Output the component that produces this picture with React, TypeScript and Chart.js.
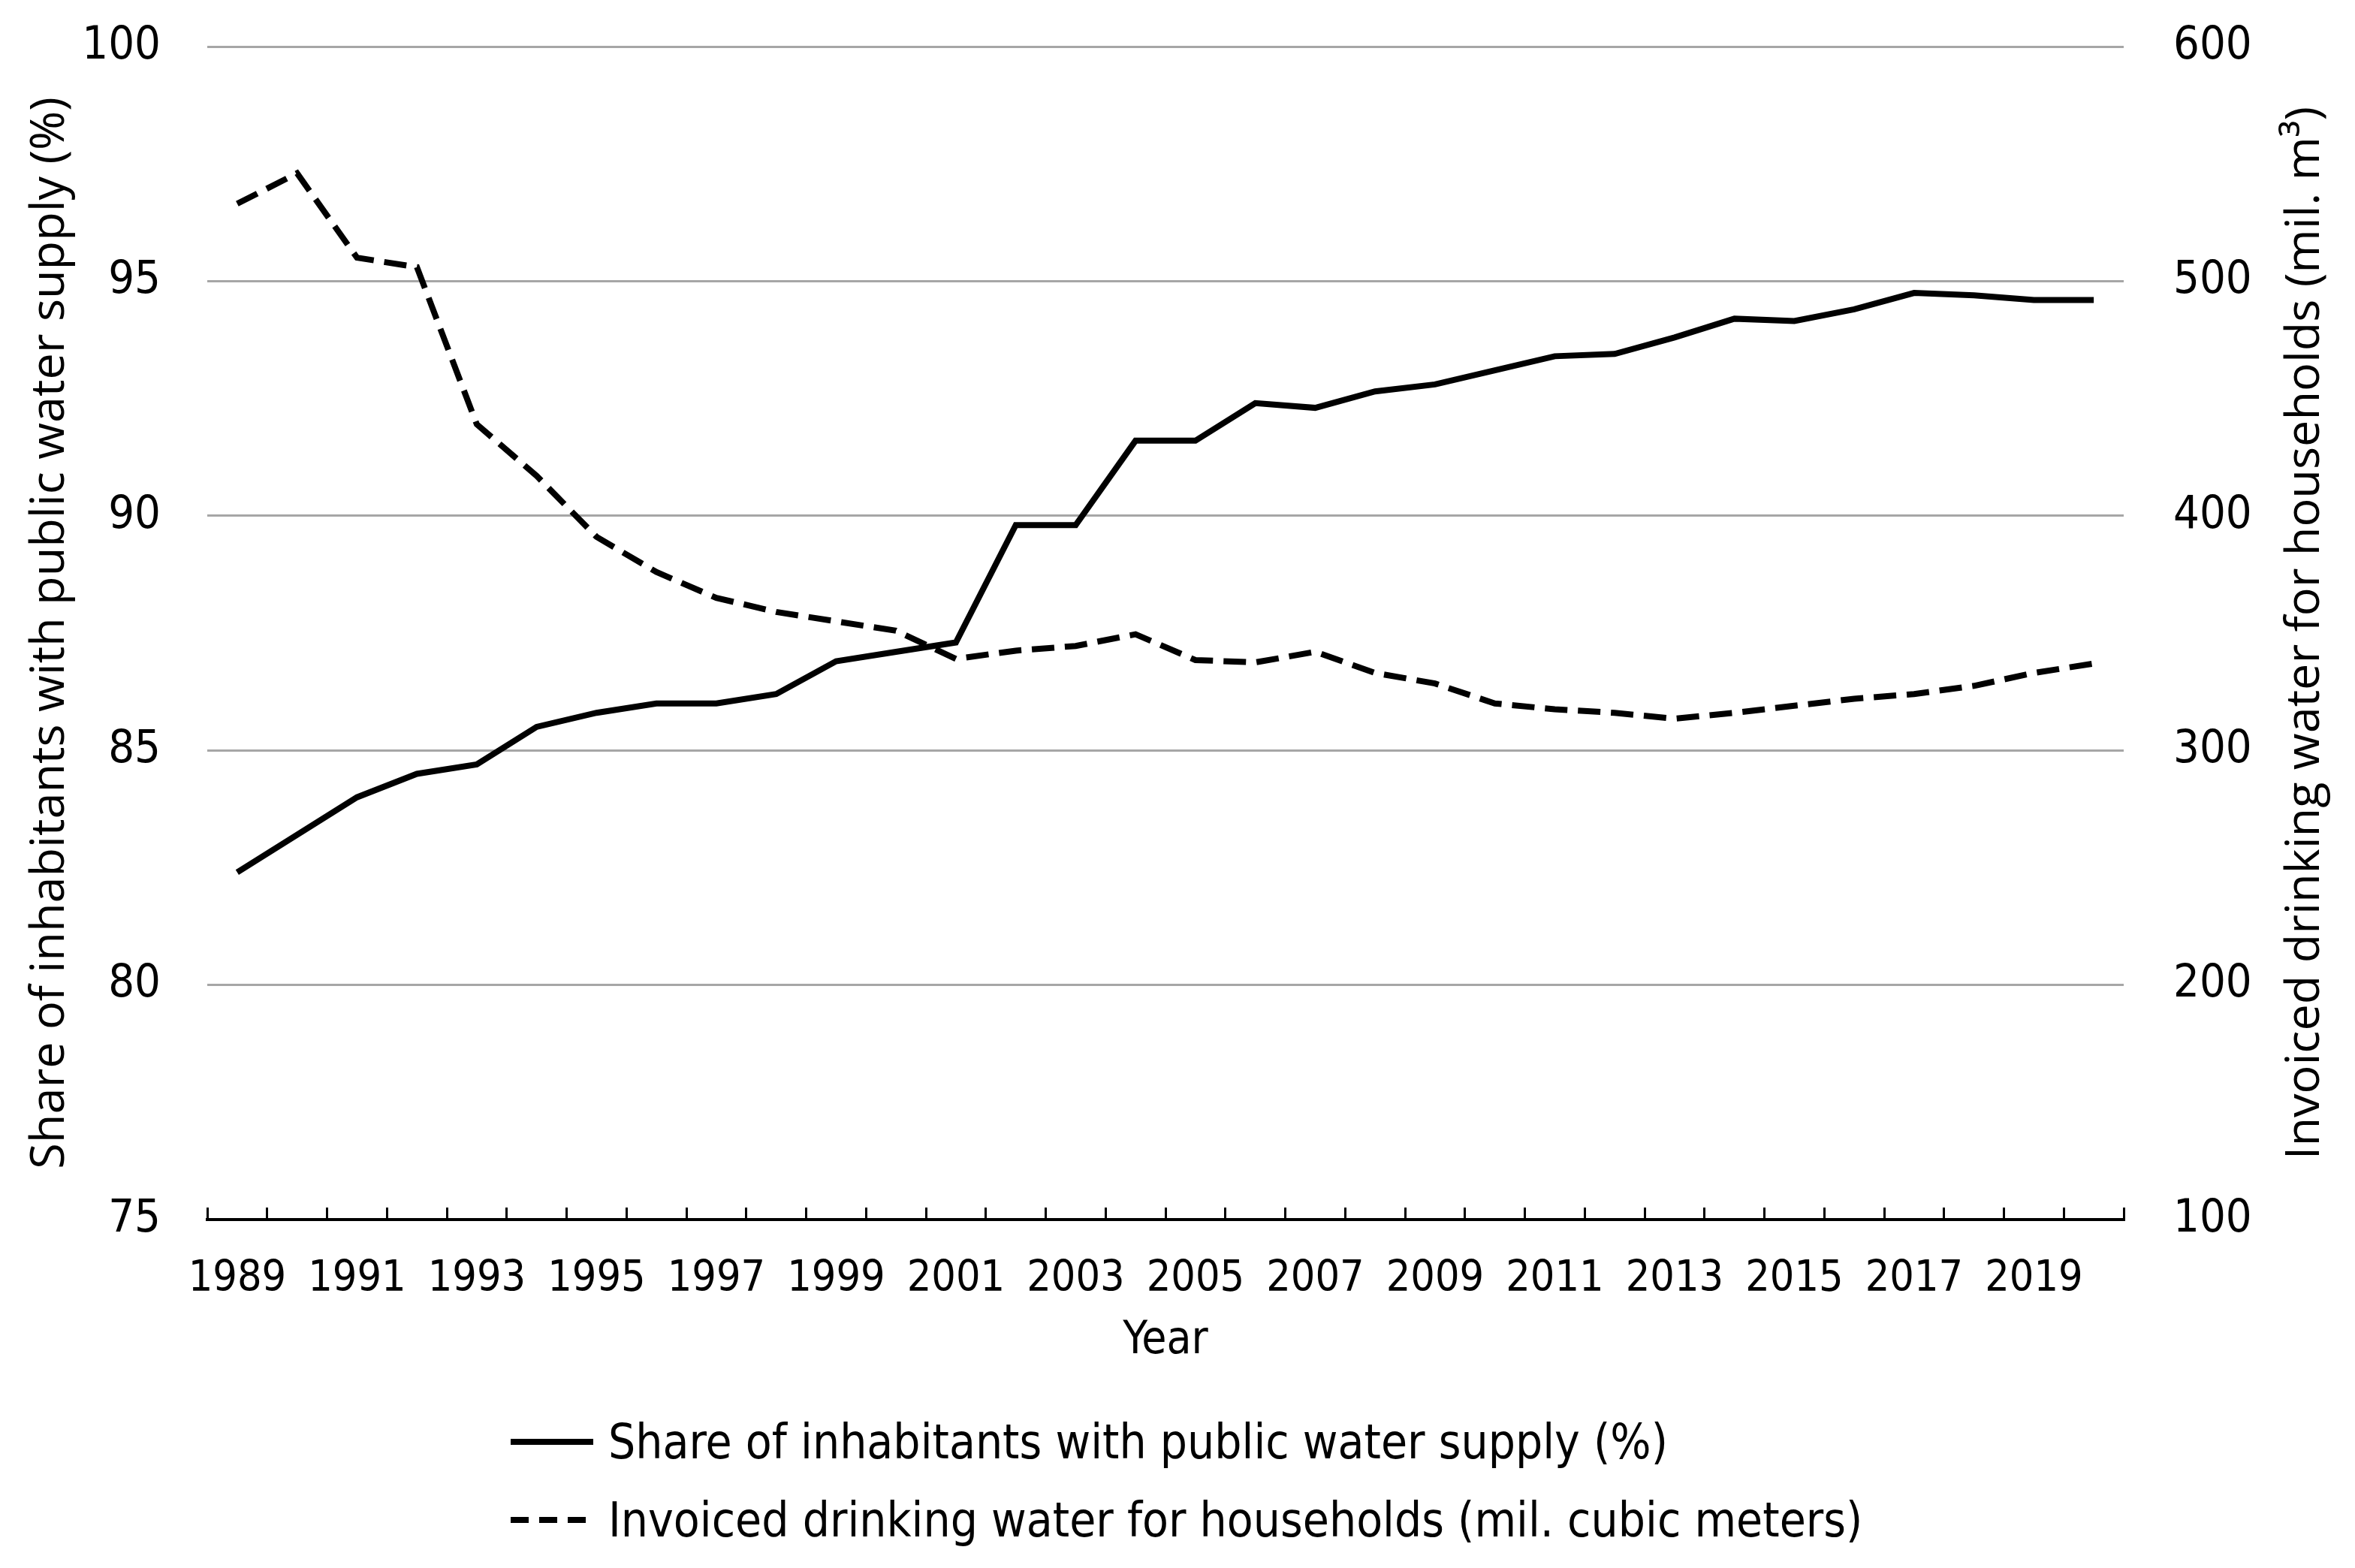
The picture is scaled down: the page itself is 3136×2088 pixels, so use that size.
import React, { useEffect, useRef } from "react";
import { Chart, registerables } from "chart.js";

Chart.register(...registerables);

const years = [
  "1989", "1990", "1991", "1992", "1993", "1994", "1995", "1996", "1997", "1998",
  "1999", "2000", "2001", "2002", "2003", "2004", "2005", "2006", "2007", "2008",
  "2009", "2010", "2011", "2012", "2013", "2014", "2015", "2016", "2017", "2018",
  "2019", "2020",
];

const shareValues = [
  82.4, 83.2, 84.0, 84.5, 84.7, 85.5, 85.8, 86.0, 86.0, 86.2,
  86.9, 87.1, 87.3, 89.8, 89.8, 91.6, 91.6, 92.4, 92.3, 92.65,
  92.8, 93.1, 93.4, 93.45, 93.8, 94.2, 94.15, 94.4, 94.75, 94.7,
  94.6, 94.6,
];

const waterValues = [
  533, 546, 510, 506, 439, 417, 391, 376, 365, 359,
  355, 351, 339, 342.5, 344.5, 349.5, 338.5, 337.5, 342, 333,
  328.5, 320, 317.5, 316, 313.5, 316, 319, 322, 324, 327.5,
  333, 337,
];

const leftTicks = [75, 80, 85, 90, 95, 100];
const rightTicks = [100, 200, 300, 400, 500, 600];

const shareLabel = "Share of inhabitants with public water supply (%)";
const waterLabel = "Invoiced drinking water for households (mil. cubic meters)";
const leftTitle = "Share of inhabitants with public water supply (%)";
const rightTitle = "Invoiced drinking water for households (mil. m\u00B3)";
const xTitle = "Year";

const W = 3136;
const H = 2088;
const TICK_FONT = '"Liberation Sans Narrow", "DejaVu Sans Condensed", "Liberation Sans", sans-serif';
const TITLE_FONT = '"Open Sans", "Noto Sans", "DejaVu Sans", sans-serif';

const rightTitlePlugin = {
  id: "rightTitle",
  afterDraw(chart: any) {
    const { ctx, chartArea } = chart;
    ctx.save();
    ctx.translate(3070, (chartArea.top + chartArea.bottom) / 2);
    ctx.rotate(-Math.PI / 2);
    ctx.textAlign = "center";
    ctx.textBaseline = "middle";
    ctx.fillStyle = "#000";
    ctx.font = `63px ${TITLE_FONT}`;
    ctx.fillText(rightTitle, 0, 0);
    ctx.restore();
  },
};

export default function App() {
  const ref = useRef<HTMLCanvasElement | null>(null);

  useEffect(() => {
    document.body.style.margin = "0";
    const canvas = ref.current;
    if (!canvas) return;
    const chart = new Chart(canvas, {
      type: "line",
      data: {
        labels: years,
        datasets: [
          {
            label: waterLabel,
            data: waterValues,
            yAxisID: "y1",
            borderColor: "#000",
            backgroundColor: "#000",
            borderWidth: 8,
            borderDash: [30, 14],
            pointRadius: 0,
            tension: 0,
            fill: false,
          },
          {
            label: shareLabel,
            data: shareValues,
            yAxisID: "y",
            borderColor: "#000",
            backgroundColor: "#000",
            borderWidth: 8,
            pointRadius: 0,
            tension: 0,
            fill: false,
          },
        ],
      },
      options: {
        responsive: false,
        animation: false,
        devicePixelRatio: 1,
        layout: { padding: { left: 0, right: 0, top: 62, bottom: 264 } },
        plugins: {
          legend: { display: false },
          tooltip: { enabled: false },
        },
        scales: {
          x: {
            type: "category",
            offset: true,
            grid: {
              offset: true,
              drawOnChartArea: false,
              drawTicks: true,
              tickLength: -16,
              color: "#000",
              lineWidth: 3,
            },
            border: { display: true, color: "#000", width: 4 },
            ticks: {
              autoSkip: false,
              maxRotation: 0,
              minRotation: 0,
              padding: 62,
              color: "#000",
              font: { family: TICK_FONT, size: 57 },
              callback: (_v: any, i: number) => (i % 2 === 0 ? years[i] : ""),
            },
            title: {
              display: true,
              text: xTitle,
              color: "#000",
              font: { family: TICK_FONT, size: 60 },
              padding: { top: 0, bottom: 2 },
            },
            afterFit: (s: any) => {
              s.height = 200;
            },
          },
          y: {
            position: "left",
            min: 75,
            max: 100,
            afterBuildTicks: (s: any) => {
              s.ticks = leftTicks.map((v) => ({ value: v }));
            },
            grid: {
              drawTicks: false,
              color: (c: any) => (c.tick && c.tick.value === 75 ? "rgba(0,0,0,0)" : "#a6a6a6"),
              lineWidth: 3,
            },
            border: { display: false },
            ticks: {
              padding: 62,
              color: "#000",
              font: { family: TICK_FONT, size: 61 },
            },
            title: {
              display: true,
              text: leftTitle,
              color: "#000",
              font: { family: TITLE_FONT, size: 63 },
              padding: { top: 29, bottom: 0 },
            },
            afterFit: (s: any) => {
              s.width = 276;
              s.paddingTop = 0;
              s.paddingBottom = 0;
            },
          },
          y1: {
            position: "right",
            min: 100,
            max: 600,
            afterBuildTicks: (s: any) => {
              s.ticks = rightTicks.map((v) => ({ value: v }));
            },
            grid: { display: false, drawTicks: false },
            border: { display: false },
            ticks: {
              padding: 66,
              color: "#000",
              font: { family: TICK_FONT, size: 61 },
            },
            afterFit: (s: any) => {
              s.width = 308;
              s.paddingTop = 0;
              s.paddingBottom = 0;
            },
          },
        },
      },
      plugins: [rightTitlePlugin],
    });
    return () => chart.destroy();
  }, []);

  const rowStyle = (center: number): React.CSSProperties => ({
    position: "absolute",
    left: 680,
    top: center - 45,
    height: 90,
    display: "flex",
    alignItems: "center",
    whiteSpace: "nowrap",
    fontFamily: TICK_FONT,
    fontSize: 63.5,
    color: "#000",
  });

  return (
    <div style={{ position: "relative", width: W, height: H, background: "#fff" }}>
      <canvas ref={ref} width={W} height={H} style={{ display: "block", width: W, height: H }} />
      <div style={rowStyle(1920)}>
        <svg width={110} height={20} style={{ marginRight: 20 }}>
          <line x1={0} y1={10} x2={110} y2={10} stroke="#000" strokeWidth={8} />
        </svg>
        <span>{shareLabel}</span>
      </div>
      <div style={rowStyle(2024)}>
        <svg width={110} height={20} style={{ marginRight: 20 }}>
          <line x1={0} y1={10} x2={110} y2={10} stroke="#000" strokeWidth={8} strokeDasharray="24 14" />
        </svg>
        <span>{waterLabel}</span>
      </div>
    </div>
  );
}
